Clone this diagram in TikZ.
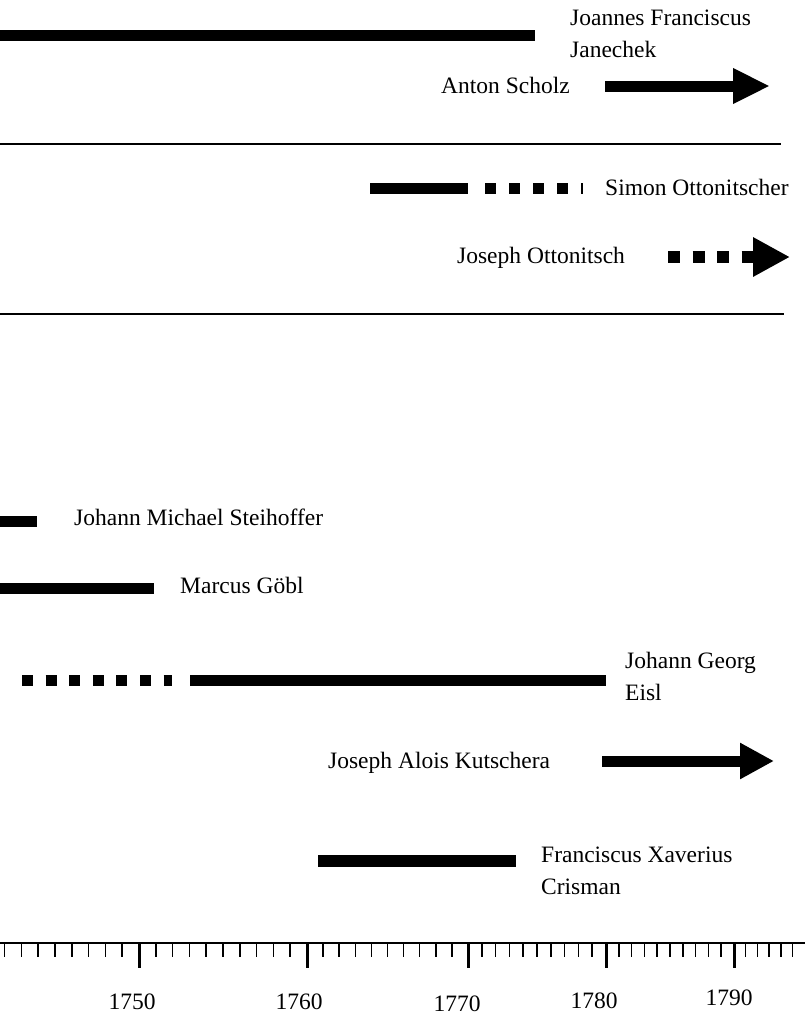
\documentclass[tikz,border=0pt]{standalone}
\usepackage{fontspec}
\setmainfont{Liberation Serif}
\usepackage{tikz}
\usetikzlibrary{arrows.meta}
\tikzset{bar/.style={line width=11pt}, who/.style={anchor=base west, inner sep=0pt, align=left},
  yr/.style={anchor=base, inner sep=0pt}, rule/.style={line width=1.5pt}}

\begin{document}
\begin{tikzpicture}[x=1pt, y=-1pt, font=\fontsize{23.5pt}{31.5pt}\selectfont]
  \useasboundingbox (0,0) rectangle (805,1015);

  % Names (two-line names sit on their last line)
  \node[who] (janechek) at (570,57) {Joannes Franciscus\\Janechek};
  \node[who] (scholz) at (441,93) {Anton Scholz};
  \node[who] (simon) at (605,195) {Simon Ottonitscher};
  \node[who] (joseph) at (457,263) {Joseph Ottonitsch};
  \node[who] (steihoffer) at (74,525) {Johann Michael Steihoffer};
  \node[who] (goebl) at (180,593) {Marcus Göbl};
  \node[who] (eisl) at (625,700) {Johann Georg\\Eisl};
  \node[who] (kutschera) at (328,768) {Joseph Alois Kutschera};
  \node[who] (crisman) at (541,894) {Franciscus Xaverius\\Crisman};

  % Bar ends
  \coordinate (janechek-a) at (0,35);     \coordinate (janechek-b) at (535,35);
  \coordinate (scholz-a) at (605,86);     \coordinate (scholz-b) at (770,86);
  \coordinate (simon-a) at (370,188);     \coordinate (simon-b) at (468,188);
  \coordinate (simon-c) at (485,188);     \coordinate (simon-d) at (583,188);
  \coordinate (joseph-a) at (668,257);    \coordinate (joseph-b) at (790,257);
  \coordinate (steihoffer-a) at (0,521);  \coordinate (steihoffer-b) at (37,521);
  \coordinate (goebl-a) at (0,588);       \coordinate (goebl-b) at (154,588);
  \coordinate (eisl-a) at (22,680);       \coordinate (eisl-b) at (172,680);
  \coordinate (eisl-c) at (190,680);      \coordinate (eisl-d) at (606,680);
  \coordinate (kutschera-a) at (602,761); \coordinate (kutschera-b) at (774,761);
  \coordinate (crisman-a) at (318,861);   \coordinate (crisman-b) at (516,861);

  % Bars
  \draw[bar] (janechek-a) -- (janechek-b);
  \draw[bar, -{Triangle[length=37pt, width=33pt]}] (scholz-a) -- (scholz-b);
  \draw[bar] (simon-a) -- (simon-b);
  \draw[bar, dash pattern=on 11pt off 13pt] (simon-c) -- (simon-d);
  \draw[line width=12pt, dash pattern=on 12pt off 12.5pt, -{Triangle[length=37pt, width=37pt]}] (joseph-a) -- (joseph-b);
  \draw[bar] (steihoffer-a) -- (steihoffer-b);
  \draw[bar] (goebl-a) -- (goebl-b);
  \draw[bar, dash pattern=on 11pt off 12.6pt] (eisl-a) -- (eisl-b);
  \draw[bar] (eisl-c) -- (eisl-d);
  \draw[bar, -{Triangle[length=34pt, width=34pt]}] (kutschera-a) -- (kutschera-b);
  \draw[line width=12pt] (crisman-a) -- (crisman-b);

  % Separators
  \coordinate (sep1-a) at (0,144);  \coordinate (sep1-b) at (781,144);
  \coordinate (sep2-a) at (0,314);  \coordinate (sep2-b) at (784,314);
  \draw[rule] (sep1-a) -- (sep1-b);
  \draw[rule] (sep2-a) -- (sep2-b);

  % Time axis
  \coordinate (axis-a) at (0,943);  \coordinate (axis-b) at (805,943);
  \draw[rule] (axis-a) -- (axis-b);
  \foreach \k in {1,...,8} \draw[rule] (139-16.8*\k,943) -- ++(0,14);
  \foreach \a/\d in {139/16.8, 307/16.1, 468/13.8, 606/12.8}
    \foreach \k in {1,...,9} \draw[rule] (\a+\d*\k,943) -- ++(0,14);
  \foreach \k in {1,...,5} \draw[rule] (734+11.7*\k,943) -- ++(0,14);
  \foreach \x in {139,307,468,606,734} \draw[line width=3pt] (\x,943) -- ++(0,25);

  \node[yr] (y1750) at (132,1009) {1750};
  \node[yr] (y1760) at (299,1009) {1760};
  \node[yr] (y1770) at (457,1011) {1770};
  \node[yr] (y1780) at (594,1008) {1780};
  \node[yr] (y1790) at (729,1005) {1790};
\end{tikzpicture}
\end{document}
